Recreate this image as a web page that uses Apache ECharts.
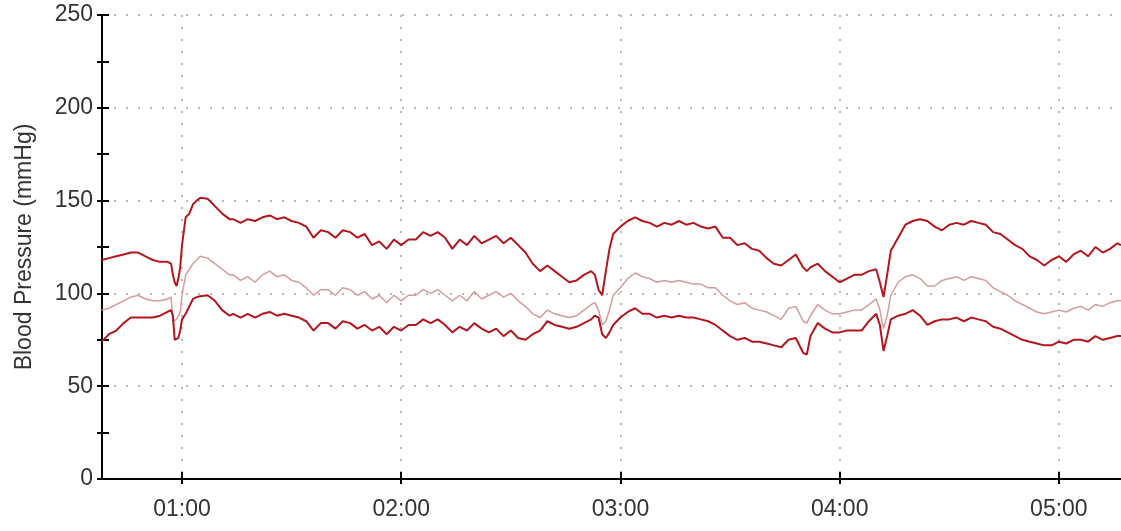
<!DOCTYPE html>
<html>
<head>
<meta charset="utf-8">
<script src="https://cdn.jsdelivr.net/npm/echarts@6/dist/echarts.min.js"></script>
<style>
html,body{margin:0;padding:0;background:#fff;}
#chart{width:1121px;height:531px;}
</style>
</head>
<body>
<div id="chart"></div>
<script>
// time in minutes after 00:00
const minutes = [38,40,42,44,46,48,50,52,54,56,57,57.5,58,58.5,59,59.5,60,61,62,63,64,65,67,69,71,73,
74,76,78,80,82,84,86,88,90,92,94,96,98,100,102,104,106,108,
110,112,114,116,118,120,122,124,126,128,130,132,134,136,138,140,142,
144,146,148,150,152,154,156,158,160,162,164,166,168,170,172,173,174,175,176,177,178,
180,182,184,186,188,190,192,194,196,198,200,202,204,206,208,210,212,214,216,218,220,222,224,226,228,230,231,232,234,236,238,240,242,244,246,248,250,251,252,253,254,256,258,260,262,264,266,268,270,272,274,276,278,280,282,284,286,288,290,292,294,296,298,300,302,304,306,308,310,312,314,316,317];

const systolic = [118,119,120,121,122,122,120,118,117,117,116,110,106,104,108,114,126,141,143,148,150,151.5,151,147,143,140,
140,138,140,139,141,142,140,141,139,138,136,130,134,133,130,134,133,130,
132,126,128,124,129,126,129,129,133,131,133,130,124,129,126,131,127,
129,131,127,130,126,122,116,112,115,112,109,106,107,110,112,110,102,99,112,124,132,
136,139,141,139,138,136,138,137,139,137,138,136,135,136,130,130,126,127,124,123,119,116,115,118,121,114,112,114,116,112,109,106,108,110,110,112,113,106,98,110,123,130,137,139,140,139,136,134,137,138,137,139,138,137,133,132,129,126,124,120,118,115,118,120,117,121,123,120,125,122,124,127,126];

const mean = [91,92,94,96,98,99,97,96,96,97,98,85,85,86,87,90,99,110,113,116,118,120,119,116,113,110,
110,107,109,106,110,112,109,110,107,106,103,99,102,102,99,103,102,99,
101,97,99,95,99,96,99,99,102,100,102,99,96,99,96,101,97,
99,101,98,100,96,93,89,87,91,89,88,87,88,91,94,95,91,83,85,91,99,
103,108,111,109,108,106,107,106,107,106,105,105,103,103,99,96,94,95,92,91,90,88,86,92,93,85,84,88,94,91,89,89,90,91,91,94,97,91,81,88,99,106,109,110,108,104,104,107,108,109,107,109,108,107,103,101,99,96,94,92,90,89,90,91,90,92,93,91,94,93,95,96,96];

const diastolic = [74,78,80,84,87,87,87,87,88,90,91,88,75,75,76,80,86,89,93,97,98,98.5,99,96,91,88,
89,87,89,87,89,90,88,89,88,87,85,80,84,84,81,85,84,81,
83,80,82,78,82,80,83,83,86,84,86,83,79,82,80,84,81,
79,81,77,80,76,75,78,80,85,83,82,81,82,84,86,88,87,78,76,79,83,
87,90,92,89,89,87,88,87,88,87,87,86,85,83,80,77,75,76,74,74,73,72,71,75,76,68,67,77,84,81,79,79,80,80,80,85,89,83,69,77,86,88,89,91,88,83,85,86,86,87,85,87,86,85,82,81,79,77,75,74,73,72,72,74,73,75,75,74,77,75,76,77,77];

const yTicks = [0,50,100,150,200,250];
const hourTicks = [60,120,180,240,300];
const xMin = 38.1, xMax = 317;

function pair(vals){ return minutes.map((m,i)=>[m, vals[i]]); }
function hhmm(v){ const h=Math.floor(v/60), m=Math.round(v%60); return (h<10?'0':'')+h+':'+(m<10?'0':'')+m; }

const font = 'Liberation Sans, Arial, sans-serif';
const axisBase = {
  type:'value', min:xMin, max:xMax
};
const chart = echarts.init(document.getElementById('chart'));
chart.setOption({
  animation:false,
  backgroundColor:'#fff',
  grid:{left:102, right:0, top:15, bottom:52, containLabel:false},
  xAxis:[
    Object.assign({}, axisBase, {
      position:'bottom',
      axisLine:{show:true, onZero:false, lineStyle:{color:'#000', width:2}},
      axisTick:{show:true, length:5, customValues:hourTicks, lineStyle:{color:'#000', width:2}},
      axisLabel:{show:true, customValues:hourTicks, formatter:hhmm, margin:19, color:'#333', fontSize:23, fontFamily:font},
      splitLine:{show:true, lineStyle:{color:'#b8b8b8', width:2, type:[2,10]}}
    }),
    Object.assign({}, axisBase, {
      position:'bottom',
      axisLine:{show:false},
      axisTick:{show:true, inside:true, length:7, customValues:hourTicks, lineStyle:{color:'#000', width:2}},
      axisLabel:{show:false},
      splitLine:{show:false}
    })
  ],
  yAxis:[
    {
      type:'value', min:0, max:250, interval:50, position:'left',
      name:'Blood Pressure (mmHg)', nameLocation:'middle', nameGap:66,
      nameTextStyle:{color:'#333', fontSize:23, fontFamily:font},
      axisLine:{show:true, lineStyle:{color:'#000', width:2}},
      axisTick:{show:true, length:5, lineStyle:{color:'#000', width:2}},
      minorTick:{show:true, splitNumber:2, length:5, lineStyle:{color:'#000', width:2}},
      axisLabel:{margin:9, color:'#333', fontSize:23, fontFamily:font},
      splitLine:{show:true, lineStyle:{color:'#b8b8b8', width:2, type:[2,10]}}
    },
    {
      type:'value', min:0, max:250, interval:50, position:'left',
      axisLine:{show:false},
      axisTick:{show:true, inside:true, length:7, lineStyle:{color:'#000', width:2}},
      minorTick:{show:true, splitNumber:2, length:7, lineStyle:{color:'#000', width:2}},
      axisLabel:{show:false},
      splitLine:{show:false}
    }
  ],
  series:[
    {name:'Mean', type:'line', data:pair(mean), showSymbol:false, lineStyle:{color:'#d69c9c', width:1.5}, itemStyle:{color:'#d69c9c'}},
    {name:'Systolic', type:'line', data:pair(systolic), showSymbol:false, lineStyle:{color:'#b3161c', width:2}, itemStyle:{color:'#b3161c'}},
    {name:'Diastolic', type:'line', data:pair(diastolic), showSymbol:false, lineStyle:{color:'#b3161c', width:2}, itemStyle:{color:'#b3161c'}}
  ]
});
</script>
</body>
</html>
